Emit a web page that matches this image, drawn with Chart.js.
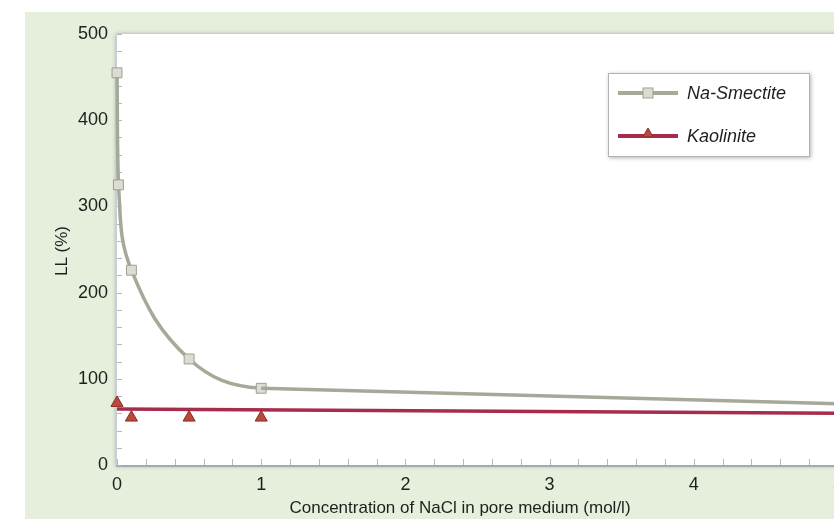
<!DOCTYPE html>
<html>
<head>
<meta charset="utf-8">
<script src="https://cdn.jsdelivr.net/npm/chart.js@4.4.0/dist/chart.umd.min.js"></script>
<style>
  html, body { margin: 0; padding: 0; background: #fff; overflow: hidden; }
  #wrap { position: relative; width: 834px; height: 519px; overflow: hidden; }
  #chart { position: absolute; left: 0; top: 0; }
</style>
</head>
<body>
<div id="wrap"><canvas id="chart" width="860" height="519"></canvas></div>
<script>
// values
const smectiteConc = [0, 0.01, 0.1, 0.5, 1, 5];
const smectiteLL = [455, 325, 226, 123, 89, 71];
const kaoliniteConc = [0, 0.1, 0.5, 1];
const kaoliniteLL = [72, 55, 55, 55];
const kaoliniteFitConc = [0, 5];
const kaoliniteFitLL = [65, 60];
const xMajorTicks = [0, 1, 2, 3, 4, 5];
const yMajorTicks = [0, 100, 200, 300, 400, 500];

const FONT = '"Liberation Sans", Arial, sans-serif';
const smectiteColor = '#a6a998';
const kaoliniteColor = '#a72c4b';

function toPoints(xs, ys) {
    return xs.map((x, i) => ({ x: x, y: ys[i] }));
}

const smectitePoints = toPoints(smectiteConc, smectiteLL);
// the long tail after 1 mol/l is drawn straight by its own dataset
const lastIdx = smectitePoints.length - 1;
const smectiteTail = smectitePoints.slice(lastIdx - 1);

const backdrop = {
    id: 'backdrop',
    beforeDraw(chart) {
        const ctx = chart.ctx;
        const a = chart.chartArea;
        ctx.save();
        ctx.fillStyle = '#e5efdb';
        ctx.fillRect(25, 12, chart.width, chart.height);
        ctx.shadowColor = 'rgba(70,80,110,0.45)';
        ctx.shadowBlur = 4;
        ctx.shadowOffsetY = 1;
        ctx.fillStyle = '#fff';
        ctx.fillRect(a.left - 1, a.top - 1, a.right - a.left + 1, a.bottom - a.top + 1);
        ctx.restore();

        ctx.save();
        ctx.strokeStyle = '#c9ccd6';
        ctx.lineWidth = 1;
        ctx.beginPath();
        ctx.moveTo(a.left - 0.5, a.bottom);
        ctx.lineTo(a.left - 0.5, a.top - 0.5);
        ctx.lineTo(a.right, a.top - 0.5);
        ctx.stroke();
        ctx.strokeStyle = '#a3a8b2';
        ctx.lineWidth = 2;
        ctx.beginPath();
        ctx.moveTo(a.left - 1, a.bottom + 1);
        ctx.lineTo(a.right, a.bottom + 1);
        ctx.stroke();

        // inward tick marks
        const xs = chart.scales.x, ys = chart.scales.y;
        ctx.strokeStyle = '#b4b8c0';
        ctx.lineWidth = 1;
        ctx.beginPath();
        xs.ticks.forEach(t => {
            const px = Math.round(xs.getPixelForValue(t.value)) + 0.5;
            ctx.moveTo(px, a.bottom);
            ctx.lineTo(px, a.bottom - 6);
        });
        ys.ticks.forEach(t => {
            const py = Math.round(ys.getPixelForValue(t.value)) + 0.5;
            ctx.moveTo(a.left, py);
            ctx.lineTo(a.left + 5, py);
        });
        ctx.stroke();
        ctx.restore();
    }
};

function drawSquare(ctx, x, y) {
    ctx.fillStyle = '#dcdcd3';
    ctx.strokeStyle = '#9e9f92';
    ctx.lineWidth = 1;
    ctx.fillRect(x - 5, y - 5, 10, 10);
    ctx.strokeRect(x - 5, y - 5, 10, 10);
}

function drawTriangle(ctx, x, y, r) {
    ctx.fillStyle = '#ba483d';
    ctx.strokeStyle = '#8c2e26';
    ctx.lineWidth = 1;
    ctx.beginPath();
    ctx.moveTo(x, y - r);
    ctx.lineTo(x + r * 0.866, y + r / 2);
    ctx.lineTo(x - r * 0.866, y + r / 2);
    ctx.closePath();
    ctx.fill();
    ctx.stroke();
}

const extras = {
    id: 'extras',
    afterDraw(chart) {
        const ctx = chart.ctx;
        ctx.save();
        // axis titles
        ctx.fillStyle = '#1f1f1f';
        ctx.font = '17px ' + FONT;
        ctx.textAlign = 'center';
        ctx.textBaseline = 'middle';
        ctx.fillText('Concentration of NaCl in pore medium (mol/l)', 460, 508);
        ctx.translate(62, 251);
        ctx.rotate(-Math.PI / 2);
        ctx.fillText('LL (%)', 0, 0);
        ctx.restore();

        // legend box
        ctx.save();
        ctx.shadowColor = 'rgba(0,0,0,0.3)';
        ctx.shadowBlur = 4;
        ctx.shadowOffsetX = 1;
        ctx.shadowOffsetY = 1;
        ctx.fillStyle = '#fff';
        ctx.fillRect(608, 73, 202, 84);
        ctx.restore();
        ctx.save();
        ctx.strokeStyle = '#b3b3b3';
        ctx.lineWidth = 1;
        ctx.strokeRect(608.5, 73.5, 201, 83);

        ctx.lineWidth = 4;
        ctx.strokeStyle = smectiteColor;
        ctx.beginPath();
        ctx.moveTo(618, 93);
        ctx.lineTo(678, 93);
        ctx.stroke();
        drawSquare(ctx, 648, 93);

        ctx.lineWidth = 4;
        ctx.strokeStyle = kaoliniteColor;
        ctx.beginPath();
        ctx.moveTo(618, 136);
        ctx.lineTo(678, 136);
        ctx.stroke();
        drawTriangle(ctx, 648, 134, 6);

        ctx.fillStyle = '#1f1f1f';
        ctx.font = 'italic 18px ' + FONT;
        ctx.textAlign = 'left';
        ctx.textBaseline = 'middle';
        ctx.fillText('Na-Smectite', 687, 94);
        ctx.fillText('Kaolinite', 687, 137);
        ctx.restore();
    }
};

new Chart(document.getElementById('chart'), {
    type: 'line',
    data: {
        datasets: [{
            label: 'Na-Smectite tail',
            data: smectiteTail,
            borderColor: smectiteColor,
            borderWidth: 3.5,
            tension: 0,
            pointRadius: 0,
            clip: false
        }, {
            label: 'Na-Smectite',
            data: smectitePoints,
            borderColor: smectiteColor,
            borderWidth: 3.5,
            tension: 0.4,
            segment: {
                borderColor: c => c.p1DataIndex === lastIdx ? 'rgba(0,0,0,0)' : undefined
            },
            pointStyle: 'rect',
            pointRadius: c => c.dataIndex === lastIdx ? 0 : 7,
            pointBackgroundColor: '#dcdcd3',
            pointBorderColor: '#9e9f92',
            pointBorderWidth: 1,
            clip: false
        }, {
            label: 'Kaolinite fit',
            data: toPoints(kaoliniteFitConc, kaoliniteFitLL),
            borderColor: kaoliniteColor,
            borderWidth: 3.5,
            pointRadius: 0,
            clip: false
        }, {
            label: 'Kaolinite',
            data: toPoints(kaoliniteConc, kaoliniteLL),
            showLine: false,
            pointStyle: 'triangle',
            pointRadius: 7,
            pointBackgroundColor: '#ba483d',
            pointBorderColor: '#8c2e26',
            pointBorderWidth: 1,
            clip: false
        }]
    },
    options: {
        responsive: false,
        devicePixelRatio: 1,
        animation: false,
        layout: {
            padding: { top: 34, right: 22, left: 0, bottom: 0 }
        },
        scales: {
            x: {
                type: 'linear',
                min: 0,
                max: 5,
                afterFit: s => { s.height = 54; },
                grid: { display: false, drawTicks: false },
                border: { display: false },
                ticks: {
                    stepSize: 0.2,
                    autoSkip: false,
                    maxRotation: 0,
                    padding: 9,
                    color: '#1f1f1f',
                    font: { family: FONT, size: 18 },
                    callback: v => {
                        const r = Math.round(v);
                        return Math.abs(v - r) < 1e-6 && xMajorTicks.includes(r) ? String(r) : '';
                    }
                }
            },
            y: {
                min: 0,
                max: 500,
                afterFit: s => { s.width = 117; },
                grid: { display: false, drawTicks: false },
                border: { display: false },
                ticks: {
                    stepSize: 20,
                    autoSkip: false,
                    padding: 9,
                    color: '#1f1f1f',
                    font: { family: FONT, size: 18 },
                    callback: v => yMajorTicks.includes(v) ? String(v) : ''
                }
            }
        },
        plugins: {
            legend: { display: false },
            tooltip: { enabled: false }
        }
    },
    plugins: [backdrop, extras]
});
</script>
</body>
</html>
